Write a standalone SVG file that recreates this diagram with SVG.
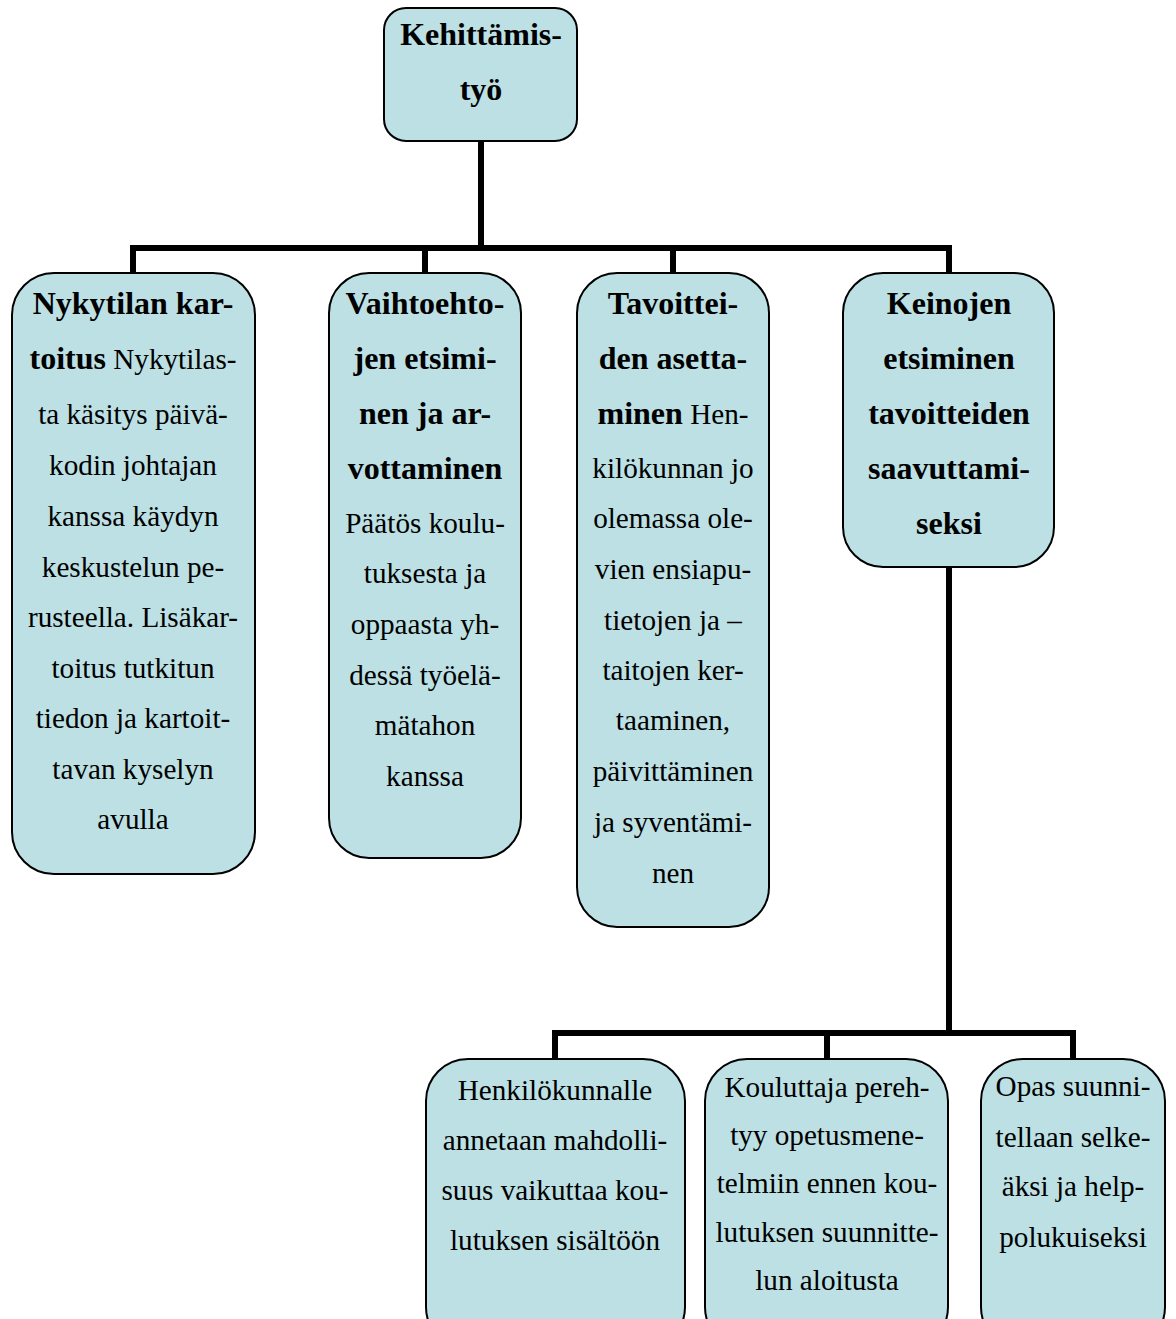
<svg xmlns="http://www.w3.org/2000/svg" width="1176" height="1319" viewBox="0 0 1176 1319">
<style>
.box{fill:#bce0e4;stroke:#000;stroke-width:2}
.conn{fill:none;stroke:#000;stroke-width:6;stroke-linejoin:miter;stroke-linecap:butt}
text{font-family:"Liberation Serif","Times New Roman",serif;font-size:29.2px;fill:#000;text-anchor:middle}
.b{font-weight:bold;font-size:32px}
</style>
<rect width="1176" height="1319" fill="#fff"/>
<g id="connectors">
<path class="conn" d="M481 141 V248"/>
<path class="conn" d="M133 274 V248 H949 V274"/>
<path class="conn" d="M425 248 V274"/>
<path class="conn" d="M673 248 V274"/>
<path class="conn" d="M949 567 V1033"/>
<path class="conn" d="M555 1060 V1033 H1073 V1060"/>
<path class="conn" d="M827 1033 V1060"/>
</g>
<g id="n-top">
<rect class="box" x="384" y="8" width="193" height="133" rx="22"/>
<text class="b" x="481" y="45">Kehittämis-</text>
<text class="b" x="481" y="100">työ</text>
</g>
<g id="n1">
<rect class="box" x="12" y="273" width="243" height="601" rx="42"/>
<text class="b" x="133" y="314">Nykytilan kar-</text>
<text x="133" y="369"><tspan class="b">toitus</tspan> Nykytilas-</text>
<text x="133" y="424">ta käsitys päivä-</text>
<text x="133" y="475">kodin johtajan</text>
<text x="133" y="526">kanssa käydyn</text>
<text x="133" y="577">keskustelun pe-</text>
<text x="133" y="627">rusteella. Lisäkar-</text>
<text x="133" y="678">toitus tutkitun</text>
<text x="133" y="728">tiedon ja kartoit-</text>
<text x="133" y="779">tavan kyselyn</text>
<text x="133" y="829">avulla</text>
</g>
<g id="n2">
<rect class="box" x="329" y="273" width="192" height="585" rx="40"/>
<text class="b" x="425" y="314">Vaihtoehto-</text>
<text class="b" x="425" y="369">jen etsimi-</text>
<text class="b" x="425" y="424">nen ja ar-</text>
<text class="b" x="425" y="479">vottaminen</text>
<text x="425" y="533">Päätös koulu-</text>
<text x="425" y="583">tuksesta ja</text>
<text x="425" y="634">oppaasta yh-</text>
<text x="425" y="685">dessä työelä-</text>
<text x="425" y="735">mätahon</text>
<text x="425" y="786">kanssa</text>
</g>
<g id="n3">
<rect class="box" x="577" y="273" width="192" height="654" rx="40"/>
<text class="b" x="673" y="314">Tavoittei-</text>
<text class="b" x="673" y="369">den asetta-</text>
<text x="673" y="424"><tspan class="b">minen</tspan> Hen-</text>
<text x="673" y="478">kilökunnan jo</text>
<text x="673" y="528">olemassa ole-</text>
<text x="673" y="579">vien ensiapu-</text>
<text x="673" y="630">tietojen ja –</text>
<text x="673" y="680">taitojen ker-</text>
<text x="673" y="730">taaminen,</text>
<text x="673" y="781">päivittäminen</text>
<text x="673" y="832">ja syventämi-</text>
<text x="673" y="883">nen</text>
</g>
<g id="n4">
<rect class="box" x="843" y="273" width="211" height="294" rx="40"/>
<text class="b" x="949" y="314">Keinojen</text>
<text class="b" x="949" y="369">etsiminen</text>
<text class="b" x="949" y="424">tavoitteiden</text>
<text class="b" x="949" y="479">saavuttami-</text>
<text class="b" x="949" y="534">seksi</text>
</g>
<g id="n5">
<rect class="box" x="426" y="1059" width="259" height="290" rx="42"/>
<text x="555" y="1100">Henkilökunnalle</text>
<text x="555" y="1150">annetaan mahdolli-</text>
<text x="555" y="1200">suus vaikuttaa kou-</text>
<text x="555" y="1250">lutuksen sisältöön</text>
</g>
<g id="n6">
<rect class="box" x="705" y="1059" width="243" height="290" rx="42"/>
<text x="827" y="1097">Kouluttaja pereh-</text>
<text x="827" y="1145">tyy opetusmene-</text>
<text x="827" y="1193">telmiin ennen kou-</text>
<text x="827" y="1242">lutuksen suunnitte-</text>
<text x="827" y="1290">lun aloitusta</text>
</g>
<g id="n7">
<rect class="box" x="981" y="1059" width="184" height="290" rx="42"/>
<text x="1073" y="1096">Opas suunni-</text>
<text x="1073" y="1147">tellaan selke-</text>
<text x="1073" y="1196">äksi ja help-</text>
<text x="1073" y="1247">polukuiseksi</text>
</g>
</svg>
